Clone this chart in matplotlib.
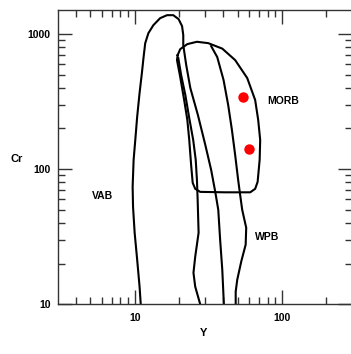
import matplotlib
matplotlib.use("Agg")
import matplotlib.pyplot as plt
from matplotlib.ticker import FixedLocator, NullFormatter

plt.rcParams['font.family'] = ['Liberation Sans', 'DejaVu Sans']

# Field boundaries (Y ppm, Cr ppm)
vab_y = [11.0, 10.8, 10.4, 10.0, 9.75, 9.69, 9.84, 10.1, 10.4, 10.8, 11.2, 11.5, 11.8,
         12.4, 13.4, 14.9, 16.6, 18.3, 19.9, 21.0, 21.4, 21.4, 22.4, 23.9, 26.9, 30.2,
         33.1, 35.3, 37.0, 38.1, 39.4, 40.4]
vab_cr = [10, 13.5, 21.4, 33.8, 52.6, 74, 117, 164, 243, 365, 513, 673, 853,
          1011, 1158, 1305, 1373, 1373, 1283, 1139, 978, 825, 589, 397, 251, 151,
          98.6, 67.8, 50, 30, 18, 10]

morb_y = [19.6, 19.4, 20.4, 21.7, 22.8, 23.5, 24.2, 24.8, 25.8, 27.9, 41.3, 61.0, 65.9,
          68.5, 70.7, 71.3, 69.1, 65.9, 58.2, 48.2, 39.4, 31.6, 26.5, 22.8, 20.4, 19.6]
morb_cr = [696, 639, 479, 324, 231, 164, 107, 79.1, 71.4, 67.8, 67.3, 67.3, 71.4,
           80.4, 117, 164, 231, 324, 471, 639, 777, 853, 873, 839, 770, 696]

inner_y = [19.8, 20.7, 22.1, 23.5, 25.0, 26.0, 26.5, 26.8, 27.2, 25.8, 25.1, 25.8, 27.9]
inner_cr = [661, 495, 353, 238, 164, 117, 83.2, 59.2, 33.8, 22.5, 17.1, 13.5, 10]

wpb_y = [33.1, 36.4, 40.2, 43.2, 45.8, 48.2, 50.5, 52.1, 53.8, 57.3, 56.8, 53.0, 49.8,
         48.6, 48.6]
wpb_cr = [811, 673, 455, 298, 195, 127, 83.2, 64.5, 50, 36.8, 27.6, 20.7, 15.2,
          12.4, 10]

# Samples
sample_y = [54.4, 60.3]
sample_cr = [339, 141]

# Field labels
field_names = ['VAB', 'MORB', 'WPB']
field_y = [6.03, 102, 79.5]
field_cr = [63.4, 319, 31.6]

x_major = [10, 100]
x_minor = [4, 5, 6, 7, 8, 9, 20, 30, 40, 50, 60, 70, 80, 90, 200]
y_major = [10, 100, 1000]
y_minor = [20, 30, 40, 50, 60, 70, 80, 90, 200, 300, 400, 500, 600, 700, 800, 900]

fig = plt.figure(figsize=(3.51, 3.54), dpi=100)
ax = fig.add_axes([0.1644, 0.1404, 0.8385, 0.8314])
ax.set_xscale('log')
ax.set_yscale('log')
ax.set_xlim(3, 300)
ax.set_ylim(10, 1500)

lw = 1.5
ax.plot(vab_y, vab_cr, color='black', lw=lw, solid_joinstyle='round')
ax.plot(morb_y, morb_cr, color='black', lw=lw, solid_joinstyle='round')
ax.plot(inner_y, inner_cr, color='black', lw=lw, solid_joinstyle='round')
ax.plot(wpb_y, wpb_cr, color='black', lw=lw, solid_joinstyle='round')

ax.plot(sample_y, sample_cr, 'o', color='#ff0000', markersize=7.5, markeredgewidth=0)

for name, fx, fy in zip(field_names, field_y, field_cr):
    ax.text(fx, fy, name, ha='center', va='center', fontsize=7.5, fontweight='bold')

ax.xaxis.set_major_locator(FixedLocator(x_major))
ax.xaxis.set_minor_locator(FixedLocator(x_minor))
ax.yaxis.set_major_locator(FixedLocator(y_major))
ax.yaxis.set_minor_locator(FixedLocator(y_minor))
ax.xaxis.set_minor_formatter(NullFormatter())
ax.yaxis.set_minor_formatter(NullFormatter())
ax.set_xticklabels([str(v) for v in x_major], fontweight='bold', fontsize=7.5)
ax.set_yticklabels([str(v) for v in y_major], fontweight='bold', fontsize=7.5)

ax.tick_params(which='both', direction='in', top=True, right=True, color='#333333')
ax.tick_params(which='major', length=10, width=1.0)
ax.tick_params(which='minor', length=5, width=1.0)
ax.tick_params(axis='x', which='major', pad=6)
ax.tick_params(axis='y', which='major', pad=5)

for s in ax.spines.values():
    s.set_linewidth(1.0)
    s.set_color('#333333')

fig.text(204 / 351, 1 - 333 / 354, 'Y', ha='center', va='center', fontsize=8, fontweight='bold')
fig.text(17 / 351, 1 - 159 / 354, 'Cr', ha='center', va='center', fontsize=8, fontweight='bold')

fig.savefig('out.png', dpi=100, facecolor='white')
